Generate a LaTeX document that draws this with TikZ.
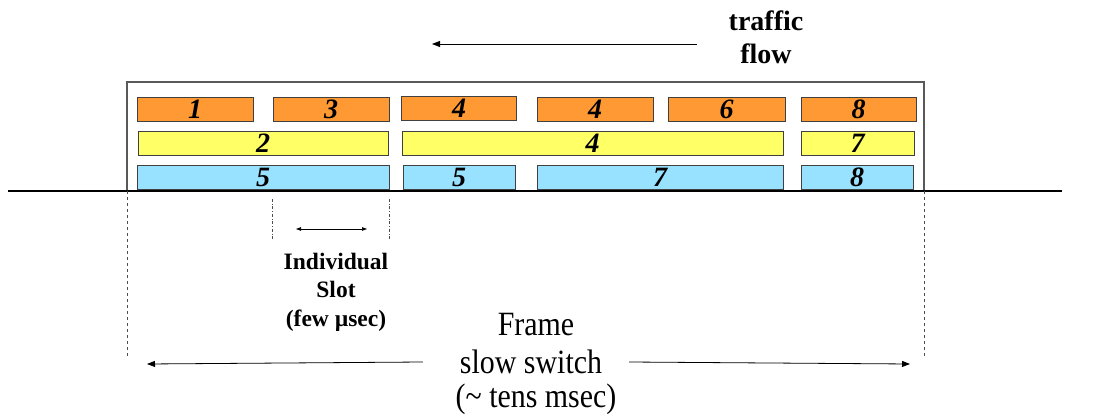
\documentclass[tikz,border=0pt]{standalone}
\usepackage{fontspec}
\setmainfont{Liberation Serif}
\usetikzlibrary{arrows.meta,positioning}
\definecolor{slotorange}{RGB}{255,153,51}
\definecolor{slotyellow}{RGB}{255,255,102}
\definecolor{slotblue}{RGB}{153,226,255}

\begin{document}
\begin{tikzpicture}[x=1pt,y=-1pt,
	slot/.style={draw=black!75,line width=0.9pt,inner sep=0pt,minimum height=24pt,
		font=\fontsize{28}{28}\selectfont\bfseries\itshape},
	arr/.style={-{Triangle[length=8pt,width=6pt]},line width=0.8pt},
	tag/.style={align=center,font=\bfseries}]
	\useasboundingbox (0,0) rectangle (1102,414);
	% frame and time axis
	\draw[black!65,line width=1.3pt] (127,191) |- (924,82) -- (924,191);
	\draw[line width=2pt] (8,191) -- (1062,191);
	% wavelength rows
	\foreach \n/\a/\b/\t in {o1/137/253/1,o2/273/389/3,o4/537/653/4,o5/668/785/6,o6/801/916/8}
	\node[slot,fill=slotorange,minimum width=\b-\a] (\n) at ({(\a+\b)/2},109.5) {\t};
	\node[slot,fill=slotorange,minimum width=115] (o3) at (459,108.5) {4};
	\foreach \n/\a/\b/\t in {y1/138/388/2,y2/402/783/4,y3/801/914/7}
	\node[slot,fill=slotyellow,minimum width=\b-\a] (\n) at ({(\a+\b)/2},143) {\t};
	\foreach \n/\a/\b/\t in {b1/137/389/5,b2/403/515/5,b3/537/783/7,b4/801/913/8}
	\node[slot,fill=slotblue,minimum width=\b-\a] (\n) at ({(\a+\b)/2},177.5) {\t};
	% direction of traffic
	\node[tag,font=\fontsize{28}{33}\selectfont\bfseries] (flow) at (766,37) {traffic\\flow};
	\coordinate (fa) at (697,44);
	\coordinate (fb) at (432,44);
	\draw[arr] (fa) -- (fb);
	% one slot
	\draw[black!70,dash dot] (b1.south east) ++(0,9) coordinate (sr) -- ++(0,40);
	\draw[black!70,dash dot] (o2.west |- sr) -- ++(0,40);
	\coordinate (sa) at (296,229);
	\coordinate (sb) at (367,229);
	\draw[{Triangle[length=5pt,width=3.5pt]}-{Triangle[length=5pt,width=3.5pt]},line width=0.7pt] (sa) -- (sb);
	\node[tag,font=\fontsize{23.5}{28.5}\selectfont\bfseries] (slot) at (336,292) {Individual\\Slot\\(few µsec)};
	% whole frame
	\draw[black!70,dashed] (127,191) -- (127,356);
	\draw[black!70,dashed] (924,191) -- (924,356);
	\node[xscale=0.88,font=\fontsize{34}{38}\selectfont] (frame) at (536,325) {Frame};
	\node[xscale=0.88,font=\fontsize{34}{38}\selectfont] (switch) at (531,362) {slow switch};
	\node[xscale=0.88,font=\fontsize{34}{38}\selectfont] (tens) at (536,399) {(\textasciitilde{} tens msec)};
	\coordinate (fl) at (147,364);
	\coordinate (fr) at (910,364);
	\draw[arr] ([xshift=-34pt]switch.west) -- (fl);
	\draw[arr] ([xshift=24pt]switch.east) -- (fr);
\end{tikzpicture}
\end{document}
